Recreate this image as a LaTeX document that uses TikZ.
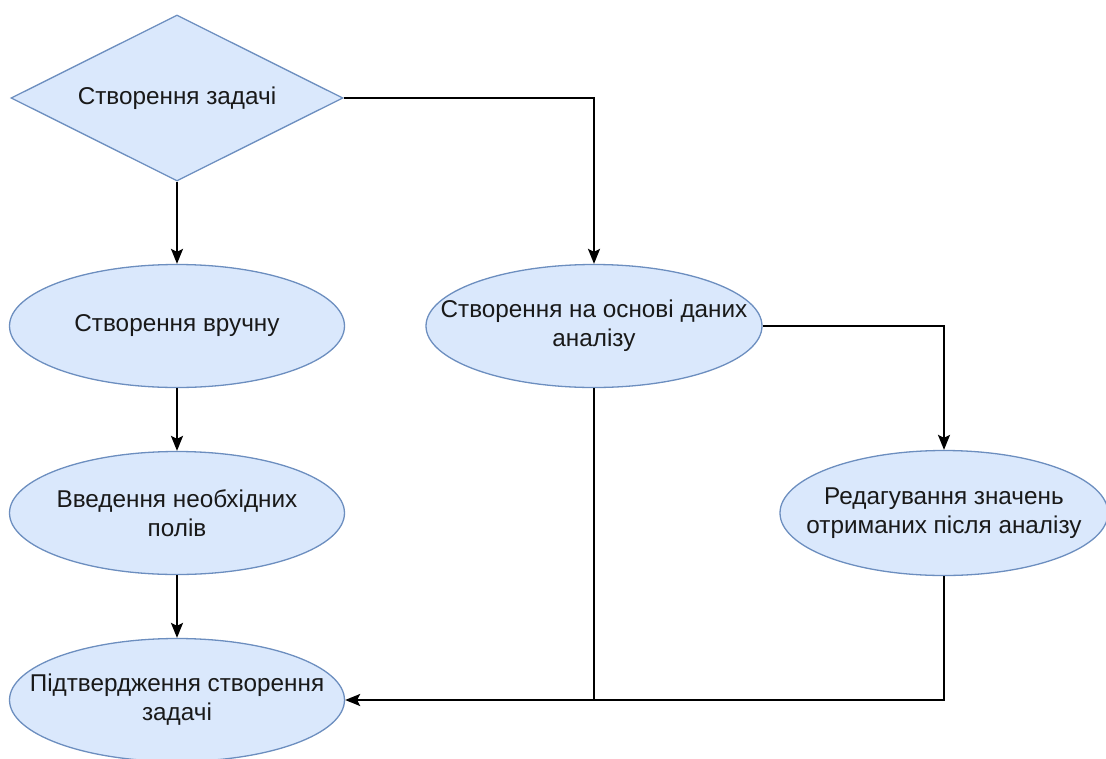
\documentclass[tikz,border=0pt]{standalone}
\usepackage{fontspec}
\setmainfont{Liberation Sans}
\usetikzlibrary{shapes.geometric,arrows.meta}
\definecolor{boxfill}{HTML}{DAE8FC}
\definecolor{boxline}{HTML}{6C8EBF}
\tikzset{
  blob/.style={ellipse, draw=boxline, fill=boxfill, line width=1.3pt, minimum width=335pt, minimum height=123pt, inner xsep=-150pt, inner ysep=-60pt, align=center, font=\fontsize{24.3pt}{29pt}\selectfont, text=black!90},
  decide/.style={diamond, draw=boxline, fill=boxfill, line width=1.3pt, minimum width=332pt, minimum height=166pt, inner xsep=-150pt, inner ysep=-60pt, align=center, font=\fontsize{24.3pt}{29pt}\selectfont, text=black!90},
  link/.style={line width=2pt, draw=black, -{Stealth[length=15pt,width=12pt,inset=3pt]}},
  plain/.style={line width=2pt, draw=black}
}
\begin{document}
\begin{tikzpicture}[x=1pt,y=-1pt]
\useasboundingbox (0,0) rectangle (1106,758);
\node[decide] (d) at (177,98) {Створення задачі};
\node[blob] (e1) at (177,326) {Створення вручну};
\node[blob] (e2) at (177,513) {Введення необхідних\\полів};
\node[blob] (e3) at (177,700) {Підтвердження створення\\задачі};
\node[blob, minimum width=336pt] (e4) at (594,326) {Створення на основі даних\\аналізу};
\node[blob, minimum width=328pt, minimum height=125pt] (e5) at (944,513) {Редагування значень\\отриманих після аналізу};
\coordinate (c1) at (594,98);
\coordinate (c2) at (944,326);
\coordinate (c3) at (594,700);
\coordinate (c4) at (944,700);
\draw[link] (d.south) -- (e1.north);
\draw[link] (e1.south) -- (e2.north);
\draw[link] (e2.south) -- (e3.north);
\draw[link] (d.east) -- (c1) -- (e4.north);
\draw[link] (e4.east) -- (c2) -- (e5.north);
\draw[plain] (e4.south) -- (c3);
\draw[link] (e5.south) -- (c4) -- (e3.east);
\end{tikzpicture}
\end{document}
